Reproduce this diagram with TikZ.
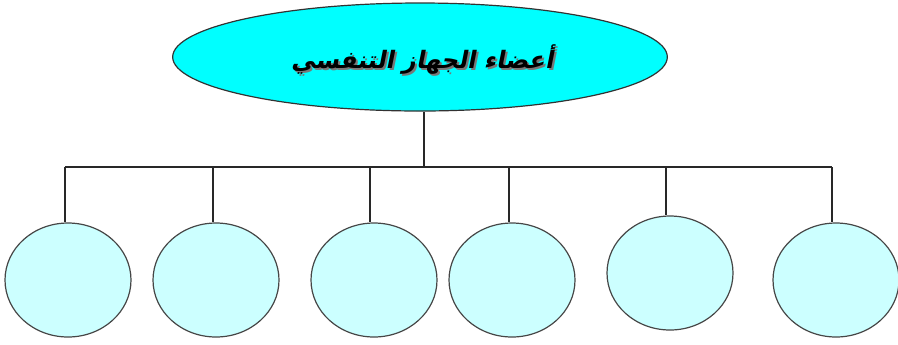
\documentclass[tikz,border=0pt]{standalone}
\usepackage{fontspec}
\newfontfamily\arabicfont[Script=Arabic]{DejaVu Sans}
\TeXXeTstate=1
\usetikzlibrary{shapes.geometric}

\tikzset{
  link/.style={draw={rgb,255:red,40;green,40;blue,40}, line width=0.9pt},
  organ/.style={ellipse, draw={rgb,255:red,70;green,70;blue,70}, line width=0.9pt,
    fill={rgb,255:red,204;green,255;blue,255}, minimum width=94.5pt, minimum height=85.5pt},
  system/.style={ellipse, draw={rgb,255:red,50;green,50;blue,50}, line width=0.9pt,
    fill={rgb,255:red,0;green,255;blue,255}, minimum width=371pt, minimum height=81pt},
  title/.style={font=\arabicfont\bfseries\fontsize{18}{22}\selectfont, xslant=0.2}
}

\begin{document}
\begin{tikzpicture}[x=0.75pt,y=0.75pt,yscale=-1]
\useasboundingbox (0,0) rectangle (898,344);

% top ellipse with its title
\node[system] (head) at (420,57) {};
\node[title, text={rgb,255:red,120;green,120;blue,120}] (shade) at (426,62) {\beginR أعضاء الجهاز التنفسي\endR};
\node[title] (label) at (424,60) {\beginR أعضاء الجهاز التنفسي\endR};

% trunk and bar
\coordinate (trunk) at (424,167);
\draw[link] (trunk |- head.south) -- (trunk);

% the six organs
\foreach \i/\x/\dx/\y in {1/68/65/280, 2/216/213/280, 3/374/370/280, 4/512/509/280, 5/670/666/273, 6/836/832/280} {
  \node[organ] (organ\i) at (\x,\y) {};
  \coordinate (drop\i) at (\dx,167);
  \draw[link] (drop\i) -- (drop\i |- organ\i.north);
}
\draw[link] (drop1) -- (drop6);
\end{tikzpicture}
\end{document}
